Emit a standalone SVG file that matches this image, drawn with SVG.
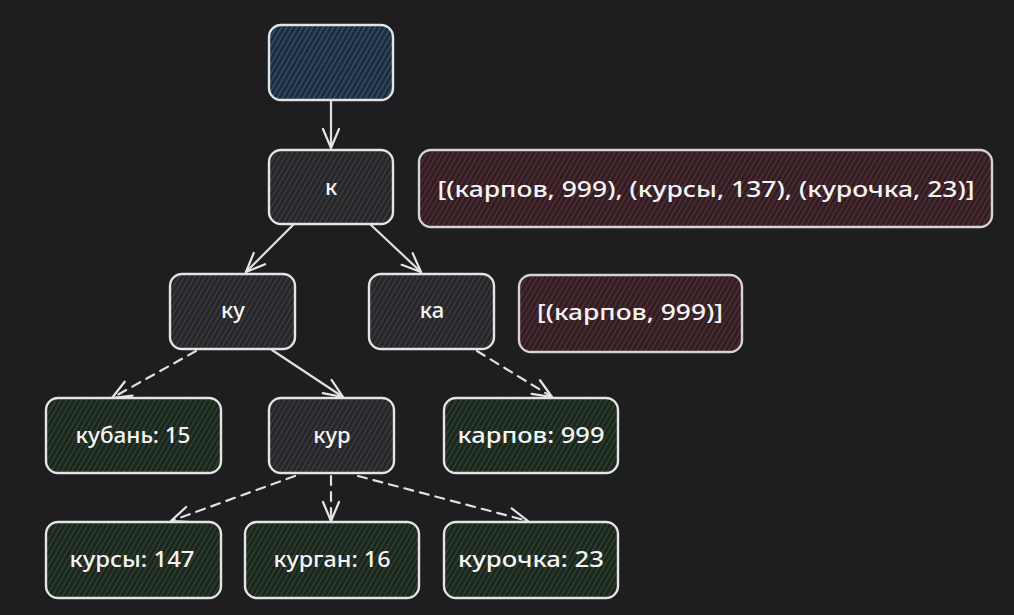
<svg xmlns="http://www.w3.org/2000/svg" width="1014" height="615" viewBox="0 0 1014 615">
<defs>
<pattern id="hGray" width="4.5" height="4.5" patternUnits="userSpaceOnUse" patternTransform="rotate(30)"><rect width="4.5" height="4.5" fill="#262629"/><line x1="1" y1="0" x2="1" y2="4.5" stroke="#414145" stroke-width="1.2"/></pattern>
<pattern id="hBlue" width="4.5" height="4.5" patternUnits="userSpaceOnUse" patternTransform="rotate(30)"><rect width="4.5" height="4.5" fill="#1d2b39"/><line x1="1" y1="0" x2="1" y2="4.5" stroke="#2e5272" stroke-width="1.5"/></pattern>
<pattern id="hGreen" width="4.5" height="4.5" patternUnits="userSpaceOnUse" patternTransform="rotate(30)"><rect width="4.5" height="4.5" fill="#1c251d"/><line x1="1" y1="0" x2="1" y2="4.5" stroke="#2f4634" stroke-width="1.3"/></pattern>
<pattern id="hRed" width="4.5" height="4.5" patternUnits="userSpaceOnUse" patternTransform="rotate(30)"><rect width="4.5" height="4.5" fill="#2d1e22"/><line x1="1" y1="0" x2="1" y2="4.5" stroke="#5e2c38" stroke-width="1.3"/></pattern>
<marker id="arr" viewBox="-22 -11 24 22" refX="0" refY="0" markerWidth="24" markerHeight="22" markerUnits="userSpaceOnUse" orient="auto">
<path d="M-19,-8 L0,0 L-19,8" fill="none" stroke="#e6e6e6" stroke-width="2.2" stroke-linecap="round" stroke-linejoin="round"/>
</marker>
</defs>
<style>
.box{stroke:#e4e4e4;stroke-width:2.4}
.gray{fill:url(#hGray)}
.blue{fill:url(#hBlue)}
.green{fill:url(#hGreen)}
.red{fill:url(#hRed);stroke:#d4d4d4}
.t{font-family:"Noto Sans","Liberation Sans",sans-serif;font-size:22px;font-weight:500;fill:#f4f4f4;text-anchor:middle}
.c{fill:none;stroke:#e0e0e0;stroke-width:2.2;stroke-linecap:round;marker-end:url(#arr)}
.d{stroke-dasharray:9 7}
</style>
<rect width="1014" height="615" fill="#1e1e21"/>
<g id="connectors">
<line class="c" x1="331" y1="101" x2="331" y2="148"/>
<line class="c" x1="293" y1="225" x2="246" y2="272"/>
<line class="c" x1="371" y1="225" x2="421" y2="272"/>
<line class="c d" x1="196" y1="351" x2="112" y2="398"/>
<line class="c" x1="272" y1="350" x2="343" y2="397"/>
<line class="c d" x1="477" y1="351" x2="552" y2="397"/>
<line class="c d" x1="295" y1="476" x2="171" y2="521"/>
<line class="c d" x1="331" y1="476" x2="331" y2="521"/>
<line class="c d" x1="358" y1="476" x2="528" y2="521"/>
</g>
<g id="root"><rect class="box blue" x="269" y="25" width="124" height="75" rx="12"/></g>
<g id="k"><rect class="box gray" x="269" y="150" width="124" height="74" rx="12"/><text class="t" x="331" y="195">к</text></g>
<g id="label1"><rect class="box red" x="419" y="150" width="573" height="77" rx="12"/><text class="t" x="706" y="197" textLength="537" lengthAdjust="spacingAndGlyphs">[(карпов, 999), (курсы, 137), (курочка, 23)]</text></g>
<g id="ku"><rect class="box gray" x="170" y="274" width="125" height="75" rx="12"/><text class="t" x="233" y="318">ку</text></g>
<g id="ka"><rect class="box gray" x="369" y="274" width="125" height="75" rx="12"/><text class="t" x="432" y="318">ка</text></g>
<g id="label2"><rect class="box red" x="519" y="275" width="223" height="77" rx="12"/><text class="t" x="630" y="320" textLength="186" lengthAdjust="spacingAndGlyphs">[(карпов, 999)]</text></g>
<g id="kuban"><rect class="box green" x="46" y="398" width="175" height="75" rx="12"/><text class="t" x="133" y="443" textLength="115" lengthAdjust="spacingAndGlyphs">кубань: 15</text></g>
<g id="kur"><rect class="box gray" x="269" y="398" width="125" height="75" rx="12"/><text class="t" x="332" y="443">кур</text></g>
<g id="karpov"><rect class="box green" x="444" y="398" width="174" height="75" rx="12"/><text class="t" x="531" y="443" textLength="147" lengthAdjust="spacingAndGlyphs">карпов: 999</text></g>
<g id="kursy"><rect class="box green" x="46" y="522" width="175" height="76" rx="12"/><text class="t" x="132" y="567" textLength="125" lengthAdjust="spacingAndGlyphs">курсы: 147</text></g>
<g id="kurgan"><rect class="box green" x="245" y="522" width="174" height="76" rx="12"/><text class="t" x="332" y="567" textLength="117" lengthAdjust="spacingAndGlyphs">курган: 16</text></g>
<g id="kurochka"><rect class="box green" x="444" y="522" width="174" height="76" rx="12"/><text class="t" x="531" y="567" textLength="146" lengthAdjust="spacingAndGlyphs">курочка: 23</text></g>
</svg>
